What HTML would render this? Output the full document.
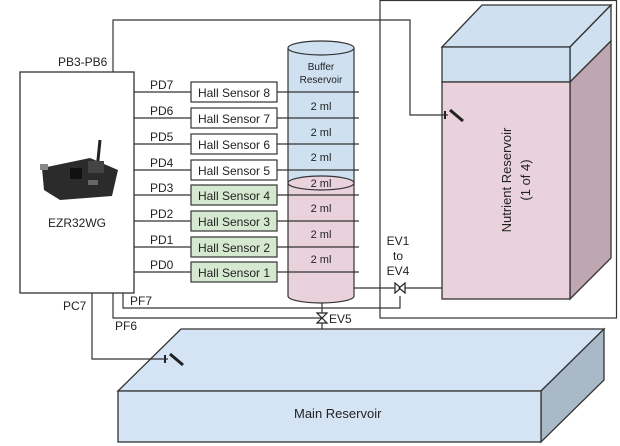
<!DOCTYPE html>
<html><head><meta charset="utf-8"><style>
html,body{margin:0;padding:0;background:#fff;}
svg{display:block;}
text{font-family:"Liberation Sans",Arial,sans-serif;fill:#222;}
</style></head><body>
<svg width="620" height="446" viewBox="0 0 620 446" xmlns="http://www.w3.org/2000/svg">
<g stroke="#333" stroke-width="1.2" fill="none">
<!-- outer right box -->
<rect x="380" y="0.5" width="236.5" height="317.5"/>
</g>
<!-- Nutrient reservoir -->
<g stroke="#333" stroke-width="1.3">
<polygon points="442,47 482,5 611,5 570,47" fill="#cfe0f1"/>
<polygon points="570,47 611,5 611,41 570,82" fill="#cfe0f1"/>
<polygon points="570,82 611,41 611,258 570,299" fill="#bfa7b1"/>
<rect x="442" y="47" width="128" height="35" fill="#cfe0f1"/>
<rect x="442" y="82" width="128" height="217" fill="#ead2dd"/>
</g>
<text x="0" y="0" font-size="13" text-anchor="middle" transform="translate(511,180) rotate(-90)">Nutrient Reservoir</text>
<text x="0" y="0" font-size="13" text-anchor="middle" transform="translate(530,180) rotate(-90)">(1 of 4)</text>
<!-- Main reservoir -->
<g stroke="#333" stroke-width="1.3">
<polygon points="118,391 181,329 604,329 541,391" fill="#d5e4f4"/>
<polygon points="541,391 604,329 604,380 541,442" fill="#a9b9c8"/>
<rect x="118" y="391" width="423" height="51" fill="#d5e4f4"/>
</g>
<text x="294" y="418" font-size="13">Main Reservoir</text>
<!-- Cylinder -->
<g stroke="#333" stroke-width="1.2">
<rect x="288" y="48" width="66" height="135" fill="#cfe0f1" stroke="none"/>
<path d="M288,183 L288,296 A33,7 0 0 0 354,296 L354,183 Z" fill="#ead2dd"/>
<line x1="288" y1="48" x2="288" y2="183"/>
<line x1="354" y1="48" x2="354" y2="183"/>
<ellipse cx="321" cy="48" rx="33" ry="7" fill="#cfe0f1"/>
<ellipse cx="321" cy="183" rx="33" ry="7" fill="#ead2dd"/>
</g>
<text x="321" y="70" font-size="10" text-anchor="middle">Buffer</text>
<text x="321" y="83" font-size="10" text-anchor="middle">Reservoir</text>
<g font-size="11" text-anchor="middle">
<text x="321" y="110">2 ml</text><text x="321" y="136">2 ml</text><text x="321" y="161">2 ml</text><text x="321" y="187">2 ml</text>
<text x="321" y="212">2 ml</text><text x="321" y="238">2 ml</text><text x="321" y="263">2 ml</text>
</g>
<!-- EZR box -->
<rect x="20" y="72" width="114" height="221" fill="#fff" stroke="#333" stroke-width="1.3"/>
<text x="77" y="227" font-size="12" text-anchor="middle">EZR32WG</text>
<text x="58" y="66" font-size="12">PB3-PB6</text>
<!-- board image -->
<g>
<line x1="97" y1="170" x2="100" y2="140" stroke="#222" stroke-width="3"/>
<polygon points="42,168 90,158 118,170 112,196 60,200 44,190" fill="#2b2b2b"/>
<rect x="70" y="168" width="12" height="11" fill="#111"/>
<rect x="88" y="161" width="16" height="12" fill="#444"/>
<rect x="40" y="164" width="8" height="6" fill="#888"/>
<rect x="88" y="180" width="10" height="5" fill="#666"/>
</g>
<!-- wires -->
<g stroke="#333" stroke-width="1.2" fill="none">
<polyline points="113,72 113,20 410,20 410,115 448,115"/>
<polyline points="123,293 123,308 400,308 400,296"/>
<polyline points="113,293 113,318 322,318"/>
<polyline points="92,293 92,359 168,359"/>
<line x1="354" y1="288" x2="442" y2="288"/>
<line x1="322" y1="303" x2="322" y2="329"/>
</g>
<!-- sensor icons -->
<g stroke="#222" stroke-linecap="butt">
<line x1="445" y1="111" x2="445" y2="119" stroke-width="2"/>
<line x1="450" y1="110" x2="463" y2="121" stroke-width="3"/>
<line x1="165" y1="355" x2="165" y2="363" stroke-width="2"/>
<line x1="170" y1="354" x2="183" y2="365" stroke-width="3"/>
</g>
<!-- valves -->
<g stroke="#222" stroke-width="1.2" fill="#fff">
<polygon points="395,283 395,293 401,288"/>
<polygon points="405,283 405,293 399,288"/>
<polygon points="317,313 327,313 322,318"/>
<polygon points="317,323 327,323 322,318"/>
</g>
<text x="329" y="323" font-size="12">EV5</text>
<g font-size="12" text-anchor="middle">
<text x="398" y="245">EV1</text><text x="398" y="260">to</text><text x="398" y="275">EV4</text>
</g>
<text x="63" y="310" font-size="12">PC7</text>
<text x="130" y="305" font-size="12">PF7</text>
<text x="115" y="330" font-size="12">PF6</text>
<!-- sensors -->
<g stroke="#333" stroke-width="1.2">
<line x1="134" y1="92" x2="359" y2="92"/>
<line x1="134" y1="118" x2="359" y2="118"/>
<line x1="134" y1="144" x2="359" y2="144"/>
<line x1="134" y1="170" x2="359" y2="170"/>
<line x1="134" y1="195" x2="359" y2="195"/>
<line x1="134" y1="221" x2="359" y2="221"/>
<line x1="134" y1="247" x2="359" y2="247"/>
<line x1="134" y1="272" x2="359" y2="272"/>
<rect x="191" y="82" width="86" height="20" fill="#fff"/>
<rect x="191" y="108" width="86" height="20" fill="#fff"/>
<rect x="191" y="134" width="86" height="20" fill="#fff"/>
<rect x="191" y="160" width="86" height="20" fill="#fff"/>
<rect x="191" y="185" width="86" height="20" fill="#d5e8d0"/>
<rect x="191" y="211" width="86" height="20" fill="#d5e8d0"/>
<rect x="191" y="237" width="86" height="20" fill="#d5e8d0"/>
<rect x="191" y="262" width="86" height="20" fill="#d5e8d0"/>
</g>
<g font-size="12" text-anchor="middle">
<text x="234" y="97">Hall Sensor 8</text>
<text x="234" y="123">Hall Sensor 7</text>
<text x="234" y="149">Hall Sensor 6</text>
<text x="234" y="175">Hall Sensor 5</text>
<text x="234" y="200">Hall Sensor 4</text>
<text x="234" y="226">Hall Sensor 3</text>
<text x="234" y="252">Hall Sensor 2</text>
<text x="234" y="277">Hall Sensor 1</text>
</g>
<g font-size="12">
<text x="150" y="89">PD7</text><text x="150" y="115">PD6</text><text x="150" y="141">PD5</text><text x="150" y="167">PD4</text>
<text x="150" y="192">PD3</text><text x="150" y="218">PD2</text><text x="150" y="244">PD1</text><text x="150" y="269">PD0</text>
</g>
</svg>
</body></html>
